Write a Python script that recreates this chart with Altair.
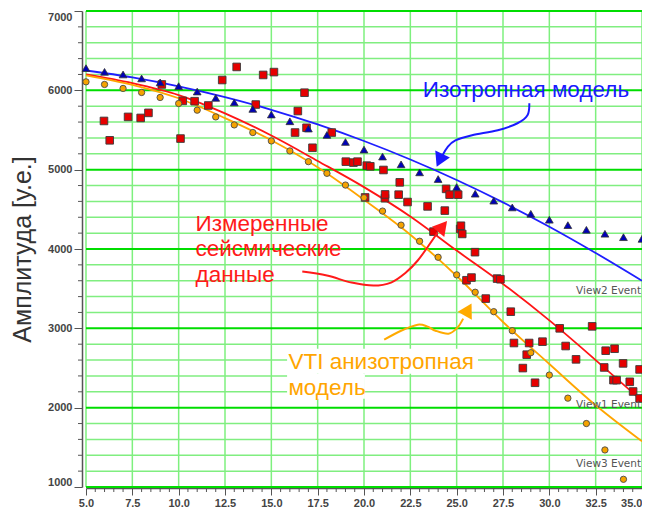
import altair as alt
import pandas as pd

# ---------------- data ----------------
# Isotropic model points (blue triangles)
tri_x = list(range(5, 36))
tri_y = [6280, 6233, 6200, 6150, 6100, 6053, 5985, 5905, 5847, 5766, 5695, 5610,
         5518, 5438, 5349, 5253, 5165, 5067, 4966, 4882, 4781, 4697, 4609, 4524,
         4444, 4369, 4301, 4242, 4192, 4149, 4128]

# VTI anisotropic model points (orange circles)
circ_x = list(range(5, 35))
circ_y = [6107, 6074, 6024, 5973, 5910, 5834, 5750, 5665, 5564, 5468, 5362, 5236,
          5101, 4954, 4806, 4647, 4478, 4301, 4098, 3896, 3674, 3455, 3210, 2970,
          2693, 2411, 2120, 1800, 1467, 1097]

# Measured seismic data (red squares)
sq_x = [5.97, 6.28, 7.27, 7.95, 8.37, 9.09, 10.10, 10.22, 10.86, 11.60, 12.35, 13.13,
        14.16, 14.56, 15.14, 16.28, 16.43, 16.79, 16.90, 17.22, 18.26, 19.02, 19.43,
        19.65, 20.06, 20.15, 20.34, 21.05, 21.13, 21.14, 21.87, 21.93, 22.35, 23.43,
        23.75, 24.36, 24.43, 24.62, 25.08, 25.19, 25.23, 25.30, 25.99, 25.53, 25.80,
        26.57, 27.18, 27.36, 27.92, 28.09, 28.57, 28.78, 28.91, 29.23, 29.63, 30.56,
        30.88, 31.44, 32.31, 32.96, 33.04, 33.46, 33.52, 33.63, 33.98, 34.34, 34.52,
        34.87, 34.87]
sq_y = [5614, 5370, 5665, 5652, 5716, 6074, 5392, 5867, 5863, 5809, 6130, 6295,
        5821, 6194, 6230, 5468, 5739, 5970, 5528, 5276, 5468, 5101, 5089,
        5101, 4650, 5051, 5042, 4996, 4640, 4688, 4685, 4840, 4592, 4537,
        4219, 4484, 4758, 4685, 4685, 4253, 4293, 4190, 3960, 3606, 3640,
        3375, 3627, 3619, 3210, 2815, 2499, 2668, 2815, 2314, 2832, 3000,
        2777, 2609, 3025, 2507, 2718, 2347, 2743, 2347, 2558, 2326, 2204,
        2482, 2116]

# Model / trend curves
line_x = [5.0, 7.5, 10.0, 12.5, 15.0, 17.5, 20.0, 22.5, 25.0, 27.5, 30.0, 32.5, 35.0]
iso_line = [6250, 6163, 6051, 5915, 5755, 5570, 5361, 5128, 4870, 4588, 4281, 3950, 3600]
meas_line = [6200, 6090, 5940, 5710, 5430, 5110, 4780, 4410, 3980, 3560, 3100, 2600, 2086]
vti_line = [6190, 6070, 5900, 5650, 5370, 5030, 4620, 4180, 3660, 3080, 2550, 2030, 1575]

# Axis ticks / grid
x_major = [5.0, 7.5, 10.0, 12.5, 15.0, 17.5, 20.0, 22.5, 25.0, 27.5, 30.0, 32.5, 35.0]
x_minor = [v / 2 for v in range(10, 71) if (v / 2) not in x_major]
y_major = [1000, 2000, 3000, 4000, 5000, 6000, 7000]
y_minor = [v for v in range(1000, 7001, 200) if v not in y_major]

# Annotation texts
ann_text = ["Изотропная модель", "Измеренные", "сейсмические", "данные",
            "VTI анизотропная", "модель"]
ann_x = [23.17, 10.91, 10.91, 10.91, 15.92, 15.92]
ann_y = [6002, 4309, 4006, 3677, 2579, 2250]
ann_col = ["#1a1aff", "#ff1a1a", "#ff1a1a", "#ff1a1a", "#ffa500", "#ffa500"]

# white boxes behind the orange text
box_x = [15.85, 15.85]
box_x2 = [26.15, 20.05]
box_y = [2743, 2427]
box_y2 = [2427, 2111]

view_text = ["View2 Event", "View1 Event", "View3 Event"]
view_x = [34.95, 34.95, 34.95]
view_y = [3467, 2036, 1287]

# Arrows (curves in data units)
blue_ax = [28.92, 28.82, 28.28, 27.22, 25.83, 24.93, 24.50, 24.24]
blue_ay = [5838, 5686, 5585, 5497, 5434, 5370, 5282, 5181]
red_ax = [16.67, 18.00, 19.33, 20.51, 21.46, 22.26, 22.90, 23.49, 23.97]
red_ay = [3716, 3665, 3577, 3539, 3577, 3703, 3855, 4044, 4208]
org_ax = [21.09, 22.00, 22.90, 23.44, 23.86, 24.56, 25.04, 25.35]
org_ay = [2857, 2970, 3046, 3021, 2970, 2933, 3008, 3122]
head_x = [24.08, 24.24, 25.62]
head_y = [5118, 4284, 3236]
head_angle = [205, 40, 29]
head_col = ["#1a1aff", "#ff1a1a", "#ffaa00"]

# ---------------- frames ----------------
tri_df = pd.DataFrame({"x": tri_x, "y": tri_y})
circ_df = pd.DataFrame({"x": circ_x, "y": circ_y})
sq_df = pd.DataFrame({"x": sq_x, "y": sq_y})
lines_df = pd.concat([
    pd.DataFrame({"x": line_x, "y": iso_line, "s": "iso"}),
    pd.DataFrame({"x": line_x, "y": meas_line, "s": "meas"}),
    pd.DataFrame({"x": line_x, "y": vti_line, "s": "vti"}),
])
ann_df = pd.DataFrame({"x": ann_x, "y": ann_y, "t": ann_text, "c": ann_col})
box_df = pd.DataFrame({"x": box_x, "x2": box_x2, "y": box_y, "y2": box_y2})
view_df = pd.DataFrame({"x": view_x, "y": view_y, "t": view_text})
arrows_df = pd.concat([
    pd.DataFrame({"x": blue_ax, "y": blue_ay, "a": "b", "i": range(len(blue_ax))}),
    pd.DataFrame({"x": red_ax, "y": red_ay, "a": "r", "i": range(len(red_ax))}),
    pd.DataFrame({"x": org_ax, "y": org_ay, "a": "o", "i": range(len(org_ax))}),
])
head_df = pd.DataFrame({"x": head_x, "y": head_y, "ang": head_angle, "c": head_col})
xmaj_df = pd.DataFrame({"x": x_major})
xmin_df = pd.DataFrame({"x": x_minor})
ymaj_df = pd.DataFrame({"y": y_major})
ymin_df = pd.DataFrame({"y": y_minor})

W, H = 556, 476
xs = alt.Scale(domain=[5, 35], nice=False, zero=False)
ys = alt.Scale(domain=[1000, 7000], nice=False, zero=False)
AX = "#555555"

x_axis = alt.Axis(
    values=x_major, title=None, format=".1f",
    labelAlign={"condition": {"test": "datum.value >= 35", "value": "right"}, "value": "center"},
    tickSize=7, grid=False,
    domainColor=AX, tickColor=AX, domainWidth=1.5, tickWidth=1,
    labelFont="Liberation Sans", labelFontWeight="bold", labelFontSize=11,
    labelColor="#444444", offset=1, labelPadding=2,
)
y_axis = alt.Axis(
    values=y_major, title="Амплитуда [у.е.]", format="d", labelFlush=True,
    tickSize=8, grid=False,
    domainColor=AX, tickColor=AX, domainWidth=1.5, tickWidth=1,
    labelFont="Liberation Sans", labelFontWeight="bold", labelFontSize=11,
    labelColor="#444444", offset=4, labelPadding=2,
    titleFont="Liberation Sans", titleFontSize=25, titleFontWeight="normal",
    titleColor="#333333", titlePadding=12,
)


def X(field="x"):
    return alt.X(f"{field}:Q", scale=xs, axis=x_axis)


def Y(field="y"):
    return alt.Y(f"{field}:Q", scale=ys, axis=y_axis)


# grid lines
vgrid = alt.Chart(xmaj_df).mark_rule(color="#7ef07e", strokeWidth=1.5).encode(x=X())
hgrid_minor = alt.Chart(ymin_df).mark_rule(color="#80ee80", strokeWidth=1.5).encode(y=Y())
hgrid_major = alt.Chart(ymaj_df).mark_rule(color="#00dd00", strokeWidth=2).encode(y=Y())

# minor ticks outside the plot
xminor_ticks = alt.Chart(xmin_df).mark_rule(color=AX, strokeWidth=1).encode(
    x=X(), y=alt.value(H + 1), y2=alt.value(H + 5))
yminor_ticks = alt.Chart(ymin_df).mark_rule(color=AX, strokeWidth=1).encode(
    y=Y(), x=alt.value(-4), x2=alt.value(-8))

base_lines = alt.Chart(lines_df).mark_line(strokeWidth=1.8, interpolate="monotone").encode(
    x=X(), y=Y(),
    color=alt.Color("s:N", scale=alt.Scale(domain=["iso", "meas", "vti"],
                                           range=["#1f1fff", "#ff1515", "#ffa500"]), legend=None),
)

boxes = alt.Chart(box_df).mark_rect(color="white").encode(x=X(), x2="x2", y=Y(), y2="y2")

squares = alt.Chart(sq_df).mark_point(shape="square", filled=True, size=58, fill="#e60000",
                                      stroke="#3a3a3a", strokeWidth=0.9, opacity=1).encode(x=X(), y=Y())

circles = alt.Chart(circ_df).mark_point(shape="circle", filled=True, size=40, fill="#f5a300",
                                        stroke="#4a4a4a", strokeWidth=0.9, opacity=1).encode(x=X(), y=Y())

triangles = alt.Chart(tri_df).mark_point(shape="triangle-up", filled=True, size=60, fill="#0000b8",
                                         stroke="#333333", strokeWidth=0.8, opacity=1).encode(x=X(), y=Y())

arrows = alt.Chart(arrows_df).mark_line(strokeWidth=2, interpolate="cardinal").encode(
    x=X(), y=Y(), detail="a:N", order="i:Q",
    color=alt.Color("a:N", scale=alt.Scale(domain=["b", "r", "o"],
                                           range=["#1a1aff", "#ff1a1a", "#ffaa00"]), legend=None),
)

heads = alt.Chart(head_df).mark_point(shape="triangle-up", filled=True, size=260, opacity=1,
                                      strokeWidth=0).encode(
    x=X(), y=Y(), angle=alt.Angle("ang:Q", scale=None), fill=alt.Fill("c:N", scale=None))

texts = alt.Chart(ann_df).mark_text(align="left", baseline="middle", font="Liberation Sans",
                                    fontSize=22.5).encode(
    x=X(), y=Y(), text="t:N", color=alt.Color("c:N", scale=None))

views = alt.Chart(view_df).mark_text(align="right", baseline="middle", font="DejaVu Sans",
                                     fontSize=10.5, color="#555555").encode(x=X(), y=Y(), text="t:N")

chart = alt.layer(
    vgrid, hgrid_minor, hgrid_major, xminor_ticks, yminor_ticks,
    base_lines, boxes, squares, circles, triangles, arrows, heads, texts, views
).resolve_scale(color="independent").properties(
    width=W, height=H,
    autosize=alt.AutoSizeParams(type="none"),
    padding={"left": 78, "top": 3, "right": 0, "bottom": 20},
    background="white",
).configure_view(stroke=None)

chart.save("out.html", embed_options={"renderer": "svg", "actions": False})
